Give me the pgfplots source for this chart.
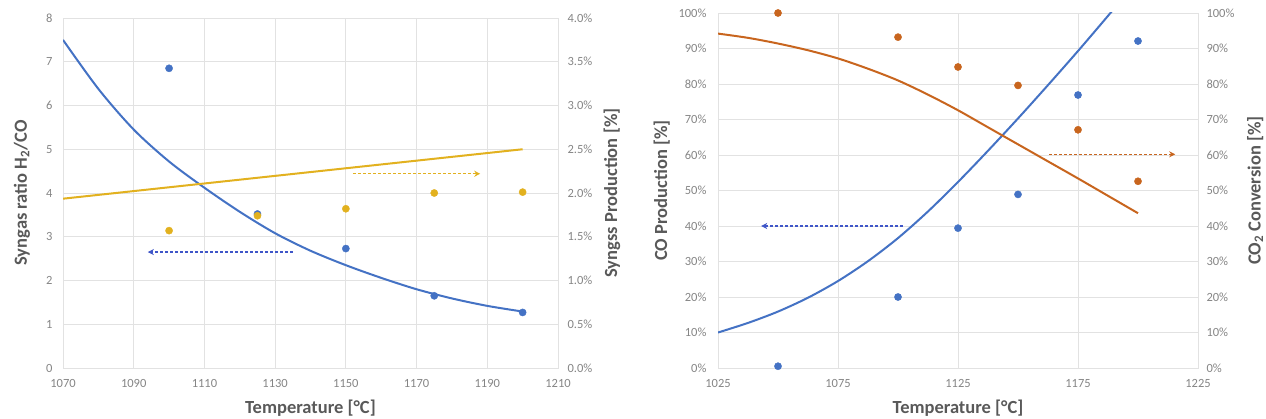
\documentclass[border=0pt]{standalone}
\usepackage{pgfplots}
\pgfplotsset{compat=1.18}
\usepackage{fontspec}
\setmainfont{Carlito}
\usetikzlibrary{arrows.meta}
\definecolor{xblue}{HTML}{4472C4}
\definecolor{xarrowblue}{HTML}{3F56C8}
\definecolor{xgold}{HTML}{E2B11F}
\definecolor{xorange}{HTML}{C8651E}
\definecolor{gridc}{HTML}{E2E2E2}
\definecolor{tickc}{HTML}{858585}
\definecolor{labc}{HTML}{595959}
\pgfplotsset{
  base/.style={scale only axis, axis line style={draw=gridc, line width=0.8pt},
    major tick length=0pt,
    tick label style={font=\fontsize{12.5}{14}\selectfont, text=tickc},
    xticklabel style={yshift=-8pt},
    label style={font=\bfseries\fontsize{18.5}{21}\selectfont, text=labc},
    /pgf/number format/assume math mode=true,
    /pgf/number format/1000 sep={}},
  trend/.style={no marks, smooth, line width=2pt},
  dots/.style={only marks, mark=*, mark size=3.6pt},
  arr/.style={no marks, line width=1.3pt, dash pattern=on 3pt off 2pt, -{Stealth[length=6pt,width=6pt]}},
}
\begin{document}
\begin{tikzpicture}
\useasboundingbox (0,0) rectangle (1266pt,418pt);
% ---------- left chart ----------
\begin{axis}[base, at={(63pt,50pt)}, anchor=south west, width=495pt, height=350pt,
  xmin=1070, xmax=1210, xtick={1070,1090,1110,1130,1150,1170,1190,1210},
  ymin=0, ymax=8, ytick={0,1,2,3,4,5,6,7,8},
  yticklabel style={xshift=-7pt},
  grid=major, major grid style={draw=gridc, line width=0.8pt},
  xlabel={Temperature [°C]}, ylabel={Syngas ratio H\textsubscript{2}/CO},
  xlabel style={at={(axis description cs:0.5,-0.114)}, anchor=center},
  ylabel style={at={(axis description cs:-0.083,0.5)}, anchor=center}]
\addplot[trend, color=xblue] coordinates {(1070,7.5) (1080,6.38) (1090,5.45) (1100,4.72) (1110,4.12) (1120,3.57) (1130,3.08) (1140,2.68) (1150,2.35) (1160,2.06) (1170,1.8) (1180,1.59) (1190,1.42) (1200,1.29)};
\addplot[dots, color=xblue] coordinates {(1100,6.85) (1125,3.52) (1150,2.73) (1175,1.65) (1200,1.27)};
\addplot[arr, color=xarrowblue] coordinates {(1135,2.65) (1094,2.65)};
\end{axis}
\begin{axis}[base, at={(63pt,50pt)}, anchor=south west, width=495pt, height=350pt,
  xmin=1070, xmax=1210, axis x line=none, axis y line*=right,
  ymin=0, ymax=4, ytick={0,0.5,1,1.5,2,2.5,3,3.5,4},
  yticklabel style={xshift=6pt},
  yticklabel={\pgfmathprintnumber[fixed,fixed zerofill,precision=1]{\tick}\%},
  ylabel={Syngss Production [\%]},
  ylabel style={at={(axis description cs:1.109,0.5)}, anchor=center}]
\addplot[trend, color=xgold] coordinates {(1070,1.935) (1200,2.5)};
\addplot[dots, color=xgold] coordinates {(1100,1.57) (1125,1.74) (1150,1.82) (1175,2.0) (1200,2.01)};
\addplot[arr, color=xgold] coordinates {(1152,2.22) (1188,2.22)};
\end{axis}
% ---------- right chart ----------
\begin{axis}[base, at={(718pt,50pt)}, anchor=south west, width=480pt, height=355pt,
  xmin=1025, xmax=1225, xtick={1025,1075,1125,1175,1225},
  ymin=0, ymax=100, ytick={0,10,20,30,40,50,60,70,80,90,100},
  yticklabel style={xshift=-8pt},
  yticklabel={\pgfmathprintnumber{\tick}\%},
  grid=major, major grid style={draw=gridc, line width=0.8pt},
  xlabel={Temperature [°C]}, ylabel={CO Production [\%]},
  xlabel style={at={(axis description cs:0.5,-0.113)}, anchor=center},
  ylabel style={at={(axis description cs:-0.117,0.5)}, anchor=center}]
\addplot[trend, color=xblue] coordinates {(1025,10) (1037.5,12.7) (1050,15.9) (1062.5,19.8) (1075,24.5) (1087.5,30.1) (1100,36.6) (1112.5,44.1) (1125,52.4) (1137.5,61.2) (1150,70.3) (1162.5,79.7) (1175,89.3) (1187.5,99.2) (1200,109.3)};
\addplot[dots, color=xblue] coordinates {(1050,0.5) (1100,20) (1125,39.4) (1150,48.9) (1175,76.9) (1200,92.1)};
\addplot[arr, color=xarrowblue] coordinates {(1102,40) (1043,40)};
\end{axis}
\begin{axis}[base, at={(718pt,50pt)}, anchor=south west, width=480pt, height=355pt,
  xmin=1025, xmax=1225, axis x line=none, axis y line*=right,
  ymin=0, ymax=100, ytick={0,10,20,30,40,50,60,70,80,90,100},
  yticklabel style={xshift=5pt},
  yticklabel={\pgfmathprintnumber{\tick}\%},
  ylabel={CO\textsubscript{2} Conversion [\%]},
  ylabel style={at={(axis description cs:1.119,0.5)}, anchor=center}]
\addplot[trend, color=xorange] coordinates {(1025,94.2) (1037.5,93) (1050,91.4) (1062.5,89.5) (1075,87.2) (1087.5,84.3) (1100,81) (1112.5,77) (1125,72.6) (1137.5,67.8) (1150,63) (1162.5,58.2) (1175,53.4) (1187.5,48.5) (1200,43.6)};
\addplot[dots, color=xorange] coordinates {(1050,100) (1100,93.2) (1125,84.8) (1150,79.6) (1175,67.1) (1200,52.6)};
\addplot[arr, color=xorange] coordinates {(1163,60.2) (1215.5,60.2)};
\end{axis}
\end{tikzpicture}
\end{document}
